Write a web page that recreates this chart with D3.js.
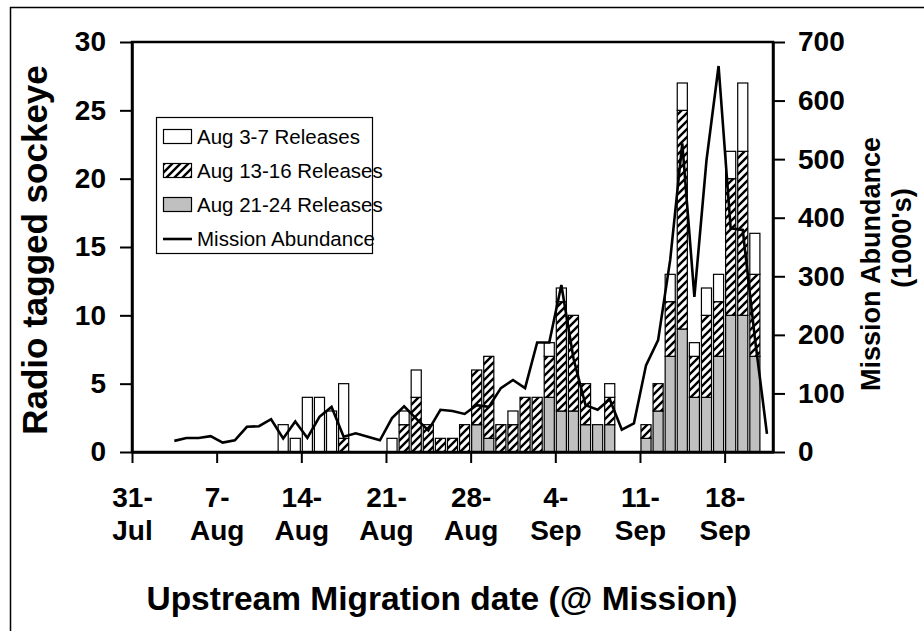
<!DOCTYPE html>
<html>
<head>
<meta charset="utf-8">
<script src="https://cdn.jsdelivr.net/npm/d3@7"></script>
<style>
body { margin: 0; background: #fff; }
svg { font-family: "Liberation Sans", Arial, sans-serif; }
</style>
</head>
<body>
<div id="chart"></div>
<script>
var parse = d3.utcParse("%Y-%m-%d");
function day(s) { return parse("2001-" + s); }

// bar days and counts per release group
var barDates = ["08-12","08-13","08-14","08-15","08-16","08-17","08-21","08-22","08-23","08-24",
                "08-25","08-26","08-27","08-28","08-29","08-30","08-31","09-01","09-02","09-03",
                "09-04","09-05","09-06","09-07","09-08","09-11","09-12","09-13","09-14","09-15",
                "09-16","09-17","09-18","09-19","09-20"];
var aug3to7   = [2,1,4,4,3,4,1,1,2,0, 0,0,0,0,0,0,1,0,0,1, 1,0,0,0,1,0,0,2,2,1, 2,2,2,5,3];
var aug13to16 = [0,0,0,0,0,1,0,2,4,2, 1,1,2,4,6,2,2,4,4,3, 8,7,3,0,2,1,2,4,16,3, 6,4,10,12,6];
var aug21to24 = [0,0,0,0,0,0,0,0,0,0, 0,0,0,2,1,0,0,0,0,4, 3,3,2,2,2,1,3,7,9,4, 4,7,10,10,7];

// mission abundance (1000's), one value per day from Aug 3 to Sep 21
var lineStart = "08-03", lineStop = "09-22";
var abundance = [19,24,24,27,16,20,43,44,56,23,52,24,60,77,26,32,26,20,58,78,
                 57,37,72,70,65,80,77,109,123,109,187,187,285,160,80,72,90,38,49,148,
                 191,328,527,265,498,659,382,379,195,31];

var tickDates = ["07-31","08-07","08-14","08-21","08-28","09-04","09-11","09-18"];
var tickLabels = [["31-","Jul"],["7-","Aug"],["14-","Aug"],["21-","Aug"],["28-","Aug"],
                  ["4-","Sep"],["11-","Sep"],["18-","Sep"]];

var legendNames = ["Aug 3-7 Releases","Aug 13-16 Releases","Aug 21-24 Releases","Mission Abundance"];

var width = 924, height = 631;
var plotLeft = 132, plotRight = 773, plotTop = 42, plotBottom = 452;

var svg = d3.select("#chart").append("svg")
            .attr("width", width)
            .attr("height", height);

var defs = svg.append("defs");
var pat = defs.append("pattern")
              .attr("id", "hatch")
              .attr("patternUnits", "userSpaceOnUse")
              .attr("width", 8)
              .attr("height", 8);
pat.append("rect").attr("width", 8).attr("height", 8).attr("fill", "#fff");
pat.append("path")
   .attr("d", "M-2,2 L2,-2 M0,8 L8,0 M6,10 L10,6")
   .attr("stroke", "#000")
   .attr("stroke-width", 2.4);

// outer chart border
svg.append("rect")
   .attr("x", 10.5).attr("y", 7.5)
   .attr("width", 1000).attr("height", 1000)
   .attr("fill", "none").attr("stroke", "#000").attr("stroke-width", 1.5);

var x = d3.scaleUtc().domain([day("07-31"), day("09-22")]).range([plotLeft, plotRight]);
var y = d3.scaleLinear().domain([0, 30]).range([plotBottom, plotTop]);
var y2 = d3.scaleLinear().domain([0, 700]).range([plotBottom, plotTop]);
var dayW = x(day("08-02")) - x(day("08-01"));

var table = barDates.map(function(d, i) {
  return { date: day(d), late: aug21to24[i], mid: aug13to16[i], early: aug3to7[i] };
});
var stack = d3.stack().keys(["late", "mid", "early"])(table);
var fills = { late: "#c0c0c0", mid: "url(#hatch)", early: "#fff" };

svg.append("g").selectAll("g")
   .data(stack)
   .enter().append("g")
   .attr("fill", function(s) { return fills[s.key]; })
   .selectAll("rect")
   .data(function(s) { return s.filter(function(p) { return p[1] > p[0]; }); })
   .enter().append("rect")
   .attr("x", function(p) { return x(p.data.date) + 1; })
   .attr("width", dayW - 2)
   .attr("y", function(p) { return y(p[1]); })
   .attr("height", function(p) { return y(p[0]) - y(p[1]); })
   .attr("stroke", "#000")
   .attr("stroke-width", 1.2);

var lineDays = d3.utcDay.range(day(lineStart), day(lineStop));
var line = d3.line()
             .x(function(d, i) { return x(lineDays[i]) + dayW / 2; })
             .y(function(d) { return y2(d); });
svg.append("path")
   .datum(abundance)
   .attr("d", line)
   .attr("fill", "none")
   .attr("stroke", "#000")
   .attr("stroke-width", 2.6)
   .attr("stroke-linejoin", "miter");

// plot area frame
svg.append("rect")
   .attr("x", plotLeft).attr("y", plotTop)
   .attr("width", plotRight - plotLeft).attr("height", plotBottom - plotTop)
   .attr("fill", "none").attr("stroke", "#000").attr("stroke-width", 2.5);

var leftAxis = svg.append("g")
   .attr("transform", "translate(" + plotLeft + ",0)")
   .call(d3.axisLeft(y).tickValues([0,5,10,15,20,25,30]).tickSize(12).tickSizeOuter(0).tickPadding(14));
var rightAxis = svg.append("g")
   .attr("transform", "translate(" + plotRight + ",0)")
   .call(d3.axisRight(y2).tickValues(d3.range(0, 701, 100)).tickSize(12).tickSizeOuter(0).tickPadding(13));
var bottomAxis = svg.append("g")
   .attr("transform", "translate(0," + plotBottom + ")")
   .call(d3.axisBottom(x).tickValues(tickDates.map(day)).tickSize(11).tickSizeOuter(0).tickFormat(""));

[leftAxis, rightAxis, bottomAxis].forEach(function(a) {
  a.select(".domain").attr("stroke-width", 2.5);
  a.selectAll(".tick line").attr("stroke-width", 2);
  a.selectAll("text").attr("font-size", 28).attr("font-weight", "bold")
   .attr("font-family", '"Liberation Sans", Arial, sans-serif').attr("fill", "#000");
});

bottomAxis.selectAll(".tick").each(function(d, i) {
  var t = d3.select(this).append("text")
            .attr("text-anchor", "middle")
            .attr("font-size", 28)
            .attr("font-weight", "bold")
            .attr("fill", "#000");
  t.append("tspan").attr("x", 0).attr("y", 55).text(tickLabels[i][0]);
  t.append("tspan").attr("x", 0).attr("y", 88).text(tickLabels[i][1]);
});

// axis titles
svg.append("text")
   .attr("transform", "translate(47,250) rotate(-90)")
   .attr("text-anchor", "middle")
   .attr("font-size", 35).attr("font-weight", "bold")
   .text("Radio tagged sockeye");
svg.append("text")
   .attr("transform", "translate(880,264) rotate(-90)")
   .attr("text-anchor", "middle")
   .attr("font-size", 27).attr("font-weight", "bold")
   .text("Mission Abundance");
svg.append("text")
   .attr("transform", "translate(911,238) rotate(-90)")
   .attr("text-anchor", "middle")
   .attr("font-size", 27).attr("font-weight", "bold")
   .text("(1000's)");
svg.append("text")
   .attr("x", 442).attr("y", 610)
   .attr("text-anchor", "middle")
   .attr("font-size", 33.5).attr("font-weight", "bold")
   .text("Upstream Migration date (@ Mission)");

// legend
var legend = svg.append("g");
legend.append("rect")
      .attr("x", 156.5).attr("y", 117.5)
      .attr("width", 216).attr("height", 136)
      .attr("fill", "#fff").attr("stroke", "#000").attr("stroke-width", 1.2);
var rowY = [137, 171, 205, 239];
var swatchFill = ["#fff", "url(#hatch)", "#c0c0c0"];
legendNames.forEach(function(name, i) {
  if (i < 3) {
    legend.append("rect")
          .attr("x", 163.5).attr("y", rowY[i] - 7.5)
          .attr("width", 28).attr("height", 14)
          .attr("fill", swatchFill[i]).attr("stroke", "#000").attr("stroke-width", 1.2);
  } else {
    legend.append("line")
          .attr("x1", 163).attr("x2", 192)
          .attr("y1", rowY[i]).attr("y2", rowY[i])
          .attr("stroke", "#000").attr("stroke-width", 2.6);
  }
  legend.append("text")
        .attr("x", 197).attr("y", rowY[i])
        .attr("dy", "0.35em")
        .attr("font-size", 20.5)
        .text(name);
});
</script>
</body>
</html>
